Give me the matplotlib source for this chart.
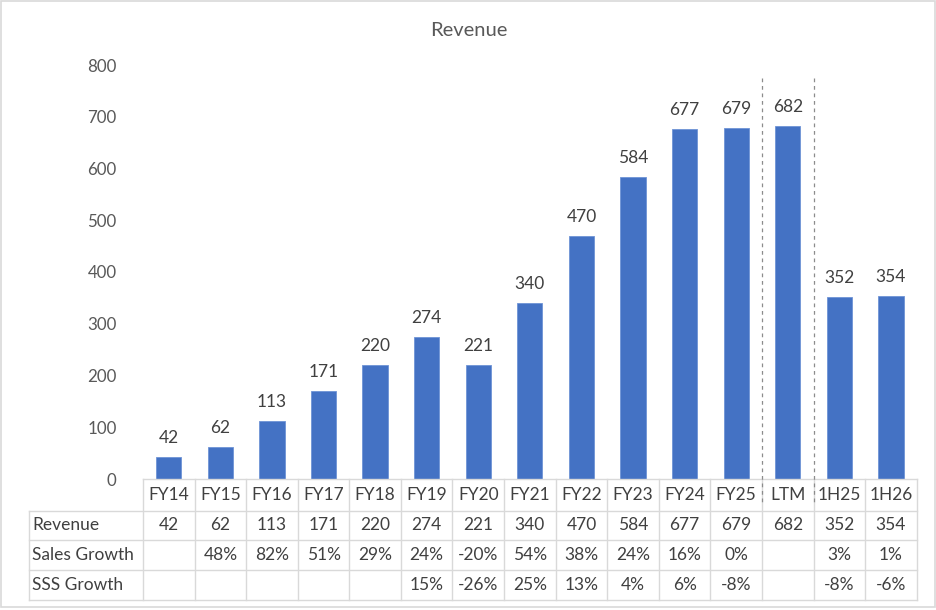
import matplotlib
matplotlib.use("Agg")
import matplotlib.pyplot as plt
from matplotlib.patches import Rectangle

plt.rcParams['font.family'] = ['Lato', 'DejaVu Sans']

categories = ["FY14", "FY15", "FY16", "FY17", "FY18", "FY19", "FY20", "FY21",
              "FY22", "FY23", "FY24", "FY25", "LTM", "1H25", "1H26"]
revenue = [42, 62, 113, 171, 220, 274, 221, 340, 470, 584, 677, 679, 682, 352, 354]
sales_growth = ["", "48%", "82%", "51%", "29%", "24%", "-20%", "54%", "38%", "24%",
                "16%", "0%", "", "3%", "1%"]
sss_growth = ["", "", "", "", "", "15%", "-26%", "25%", "13%", "4%", "6%", "-8%",
              "", "-8%", "-6%"]
row_labels = ["Revenue", "Sales Growth", "SSS Growth"]
yticks = [0, 100, 200, 300, 400, 500, 600, 700, 800]
divider_after = [11, 12]   # dashed separators after FY25 and after LTM

W, H = 936, 610
BAR = "#4472C4"
TXT = "#404040"
AXT = "#595959"
GRID = "#D9D9D9"
FS = 12.5

fig = plt.figure(figsize=(W / 100, H / 100), dpi=100)
x0, x1 = 143, 916.7
y_top, y_zero = 65, 479
ax = fig.add_axes([x0 / W, (H - y_zero) / H, (x1 - x0) / W, (y_zero - y_top) / H])
n = len(categories)
xs = list(range(n))
ax.bar(xs, revenue, width=0.49, color=BAR, edgecolor="#6E93D6", linewidth=0.6, zorder=2)
ax.set_xlim(-0.5, n - 0.5)
ax.set_ylim(0, 800)
ax.set_yticks(yticks)
ax.set_yticklabels([str(t) for t in yticks], fontsize=12.2, color=AXT)
ax.tick_params(axis='y', length=0, pad=19)
ax.set_xticks([])
for s in ax.spines.values():
    s.set_visible(False)
for x, v in zip(xs, revenue):
    ax.annotate(str(v), (x, v), xytext=(0, 19), textcoords="offset pixels",
                ha="center", va="center", fontsize=FS, color=TXT)

# overlay in pixel coordinates for table and decorations
ov = fig.add_axes([0, 0, 1, 1])
ov.set_xlim(0, W)
ov.set_ylim(H, 0)
ov.axis("off")
ov.patch.set_alpha(0)

fig.canvas.draw()
def col_edge(i):
    return ax.transData.transform((i - 0.5, 0))[0]
def col_center(i):
    return ax.transData.transform((i, 0))[0]

ov.text(W / 2 + 1, 30, "Revenue", ha="center", va="center", fontsize=14.5, color=AXT)

rows_y = [479, 510.7, 540.3, 570, 599.5]
lab_x0 = 29
tx0, tx1 = col_edge(0), col_edge(n)
lw = 1.0
ov.plot([tx0, tx1], [rows_y[0], rows_y[0]], color=GRID, lw=lw)
for y in rows_y[1:]:
    ov.plot([lab_x0, tx1], [y, y], color=GRID, lw=lw)
for i in range(n + 1):
    ov.plot([col_edge(i)] * 2, [rows_y[0], rows_y[-1]], color=GRID, lw=lw)
ov.plot([lab_x0, lab_x0], [rows_y[1], rows_y[-1]], color=GRID, lw=lw)

for d in divider_after:
    xe = col_edge(d + 1)
    ov.plot([xe, xe], [78, 503], color="#8C8C8C", lw=0.9, ls=(0, (3, 3)))

for i, c in enumerate(categories):
    ov.text(col_center(i), (rows_y[0] + rows_y[1]) / 2, c, ha="center", va="center",
            fontsize=FS, color=TXT)
rows = [[str(v) for v in revenue], sales_growth, sss_growth]
for r, (lab, vals) in enumerate(zip(row_labels, rows)):
    yc = (rows_y[r + 1] + rows_y[r + 2]) / 2
    ov.text(lab_x0 + 3, yc, lab, ha="left", va="center", fontsize=FS, color=TXT)
    for i, v in enumerate(vals):
        if v:
            ov.text(col_center(i), yc, v, ha="center", va="center", fontsize=FS, color=TXT)

ov.add_patch(Rectangle((0.5, 0.5), W - 2, 606.5, fill=False, edgecolor=GRID, lw=1.2))

fig.savefig("out.png", dpi=100)
